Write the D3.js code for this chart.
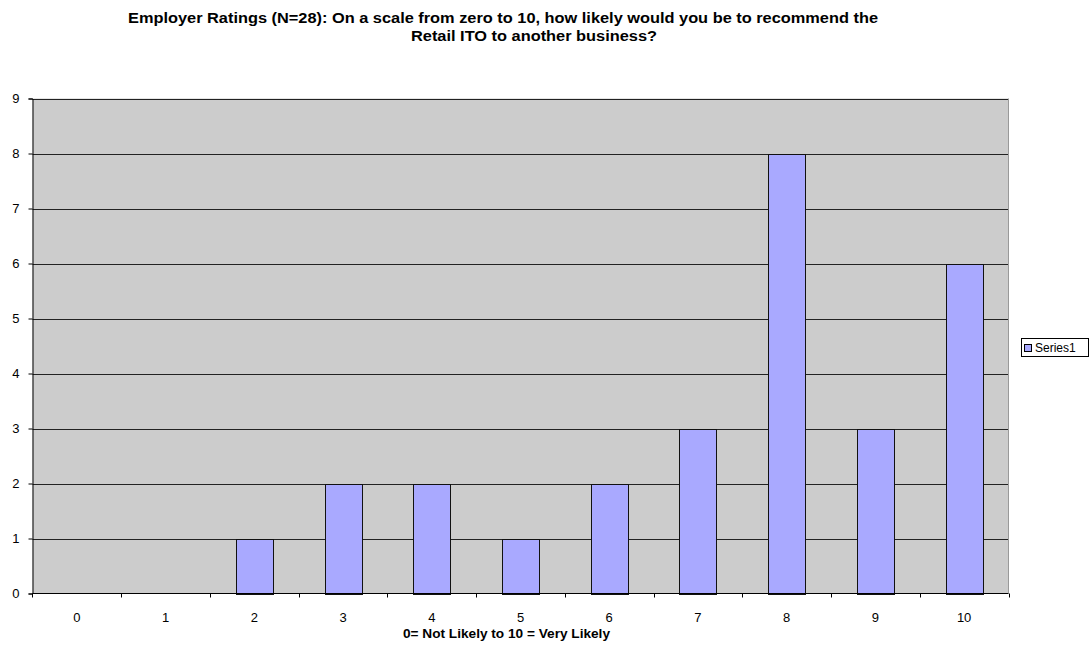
<!DOCTYPE html>
<html><head><meta charset="utf-8">
<script src="https://cdn.jsdelivr.net/npm/d3@7"></script>
<style>body{margin:0;background:#fff;}svg{display:block;font-family:"Liberation Sans",Arial,sans-serif;}</style>
</head><body>
<svg id="c" width="1091" height="645"></svg>
<script>
const categories = ["0","1","2","3","4","5","6","7","8","9","10"];
const values = [0,0,1,2,2,1,2,3,8,3,6];
const yTicks = [0,1,2,3,4,5,6,7,8,9];
const seriesName = "Series1";
const titleLines = ["Employer Ratings (N=28): On a scale from zero to 10, how likely would you be to recommend the","Retail ITO to another business?"];
const xTitle = "0= Not Likely to 10 = Very Likely";

const svg = d3.select("#c");
const L = 32.5, R = 1008.5, T = 98.5, B = 593.5;
const x = d3.scaleBand().domain(categories).range([L, R]).paddingInner(0).paddingOuter(0);
const y = d3.scaleLinear().domain([0, 9]).range([B, T]);

svg.append("rect").attr("x", L).attr("y", T).attr("width", R - L).attr("height", B - T).attr("fill", "#cccccc");

// gridlines
svg.append("g").selectAll("line").data(yTicks.slice(1)).join("line")
  .attr("x1", L).attr("x2", R).attr("y1", d => Math.round(y(d)) + 0.5).attr("y2", d => Math.round(y(d)) + 0.5)
  .attr("stroke", "#222").attr("stroke-width", 1);

svg.append("line").attr("x1", R).attr("x2", R).attr("y1", T).attr("y2", B).attr("stroke", "#999");

// bars
const bw = 37;
const barData = values.map((v, i) => ({c: categories[i], v})).filter(d => d.v > 0);
svg.append("g").selectAll("rect").data(barData).join("rect")
  .attr("x", d => Math.round(x(d.c) + x.bandwidth() / 2 - bw / 2) + 0.5)
  .attr("y", d => Math.round(y(d.v)) + 0.5)
  .attr("width", bw)
  .attr("height", d => Math.round(y(0)) - Math.round(y(d.v)))
  .attr("fill", "#a9a9ff").attr("stroke", "#111").attr("stroke-width", 1);

// y axis
const ya = d3.axisLeft(y).tickValues(yTicks).tickSize(4).tickPadding(9).tickFormat(d3.format("d"));
const gy = svg.append("g").attr("transform", `translate(${L},0)`).call(ya);
gy.select(".domain").attr("stroke", "#000");
gy.selectAll(".tick line").attr("stroke", "#000");
gy.selectAll("text").attr("fill", "#000").style("font-size", "13px").style("font-family", "Liberation Sans, Arial, sans-serif");

// x axis
const gx = svg.append("g").attr("transform", `translate(0,${B})`);
gx.append("line").attr("x1", L).attr("x2", R).attr("y1", 0).attr("y2", 0).attr("stroke", "#000");
const bounds = categories.map(c => x(c)).concat([R]);
gx.selectAll("line.tk").data(bounds).join("line").attr("class", "tk")
  .attr("x1", d => Math.round(d) + 0.5).attr("x2", d => Math.round(d) + 0.5).attr("y1", 0).attr("y2", 4).attr("stroke", "#000");
gx.selectAll("text").data(categories).join("text")
  .attr("x", d => x(d) + x.bandwidth() / 2).attr("y", 28).attr("text-anchor", "middle")
  .style("font-size", "13px").attr("fill", "#000").text(d => d);

// titles
svg.append("text").attr("x", 503).attr("y", 23).attr("text-anchor", "middle").attr("font-weight", "bold")
  .style("font-size", "14px").attr("textLength", 750).attr("lengthAdjust", "spacingAndGlyphs").text(titleLines[0]);
svg.append("text").attr("x", 534).attr("y", 41).attr("text-anchor", "middle").attr("font-weight", "bold")
  .style("font-size", "14px").attr("textLength", 246).attr("lengthAdjust", "spacingAndGlyphs").text(titleLines[1]);
svg.append("text").attr("x", 506.5).attr("y", 638).attr("text-anchor", "middle").attr("font-weight", "bold")
  .style("font-size", "12px").attr("textLength", 207).attr("lengthAdjust", "spacingAndGlyphs").text(xTitle);

// legend
const lg = svg.append("g");
lg.append("rect").attr("x", 1021.5).attr("y", 338.5).attr("width", 67).attr("height", 18).attr("fill", "#fff").attr("stroke", "#000");
lg.append("rect").attr("x", 1024.5).attr("y", 344.5).attr("width", 7).attr("height", 7).attr("fill", "#a9a9ff").attr("stroke", "#000");
lg.append("text").attr("x", 1035).attr("y", 352).style("font-size", "12px").attr("fill", "#000").text(seriesName);
</script>
</body></html>
